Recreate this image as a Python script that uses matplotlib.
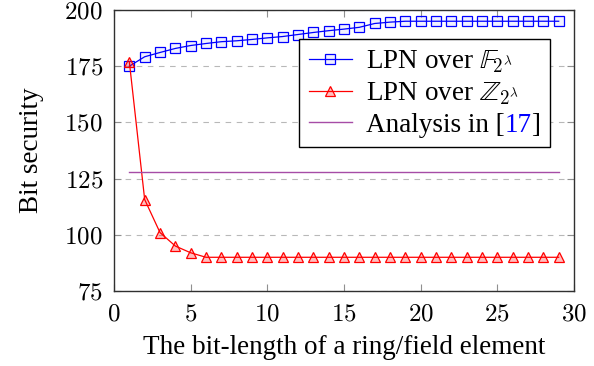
import matplotlib
matplotlib.use("Agg")
import matplotlib.pyplot as plt
from matplotlib.ticker import FuncFormatter

x = list(range(1, 30))
lpn_field = [175, 179.2, 181.1, 182.9, 184.2, 185.1, 185.9, 186.3, 186.9, 187.6,
             188.2, 189.1, 190.0, 190.8, 191.5, 192.3, 194.0, 194.6, 195, 195,
             195, 195, 195, 195, 195, 195, 195, 195, 195]
lpn_ring = [177, 115.7, 101, 95, 92, 90, 90, 90, 90, 90,
            90, 90, 90, 90, 90, 90, 90, 90, 90, 90,
            90, 90, 90, 90, 90, 90, 90, 90, 90]
analysis_x = [1, 29]
analysis_y = [128, 128]
xticks = [0, 5, 10, 15, 20, 25, 30]
yticks = [75, 100, 125, 150, 175, 200]

plt.rcParams['font.family'] = ['Liberation Serif', 'DejaVu Serif']
plt.rcParams['mathtext.fontset'] = 'cm'

FS_TICK = 18
FS_LAB = 19.5

fig = plt.figure(figsize=(5.94, 3.66), dpi=100)
ax = fig.add_axes([114/594, 1 - 291/366, 460/594, 281/366])

ax.plot(x, lpn_field, color='blue', lw=0.9, marker='s', markersize=7.5,
        markerfacecolor=(0, 0, 1, 0.06), markeredgecolor='blue', markeredgewidth=0.9,
        label=r'LPN over $\mathbb{F}_{2^{\lambda}}$')
ax.plot(x, lpn_ring, color='red', lw=0.9, marker='^', markersize=7.5,
        markerfacecolor=(1, 0, 0, 0.25), markeredgecolor='red', markeredgewidth=0.9,
        label=r'LPN over $\mathbb{Z}_{2^{\lambda}}$')
ax.plot(analysis_x, analysis_y, color='#a64ca6', lw=1.0, label='Analysis in [17]')

ax.set_xlim(0, 30)
ax.set_ylim(75, 200)
ax.set_xticks(xticks)
ax.set_yticks(yticks)
fmt = FuncFormatter(lambda v, p: r'$%d$' % v)
ax.xaxis.set_major_formatter(fmt)
ax.yaxis.set_major_formatter(fmt)
ax.yaxis.grid(True, color='#b8b8b8', linestyle=(0, (5, 5)), lw=0.8)
ax.set_axisbelow(True)
ax.tick_params(direction='in', length=5, width=0.8, top=True, right=True,
               labelsize=FS_TICK, color='#909090')
ax.tick_params(axis='y', pad=8)
ax.tick_params(axis='x', pad=9)
for s in ax.spines.values():
    s.set_color('#303030')
    s.set_linewidth(1.0)

ax.set_xlabel('The bit-length of a ring/field element', fontsize=FS_LAB, labelpad=7)
ax.set_ylabel('Bit security', fontsize=FS_LAB, labelpad=15)

leg = ax.legend(loc='upper right', bbox_to_anchor=(0.948, 0.897), fontsize=FS_LAB,
                frameon=True, fancybox=False, edgecolor='black', framealpha=1,
                borderpad=0.36, handlelength=1.6, handletextpad=0.5,
                labelspacing=0.2, borderaxespad=0)
leg.get_frame().set_linewidth(1.0)

# color "17" blue in the third legend label: measure, hide, redraw in pieces
fig.canvas.draw()
t = leg.get_texts()[2]
bb = t.get_window_extent(fig.canvas.get_renderer())
t.set_visible(False)
p1 = fig.text(bb.x0, bb.y0, 'Analysis in [', transform=None, va='bottom', ha='left',
              fontsize=FS_LAB, color='black', zorder=10)
p2 = fig.text(0, 0, '', transform=None)
p2 = ax.annotate('17', xy=(1, 0), xycoords=p1, va='bottom', ha='left',
                 fontsize=FS_LAB, color='blue', zorder=10)
p3 = ax.annotate(']', xy=(1, 0), xycoords=p2, va='bottom', ha='left',
                 fontsize=FS_LAB, color='black', zorder=10)

fig.savefig('out.png', dpi=100)
